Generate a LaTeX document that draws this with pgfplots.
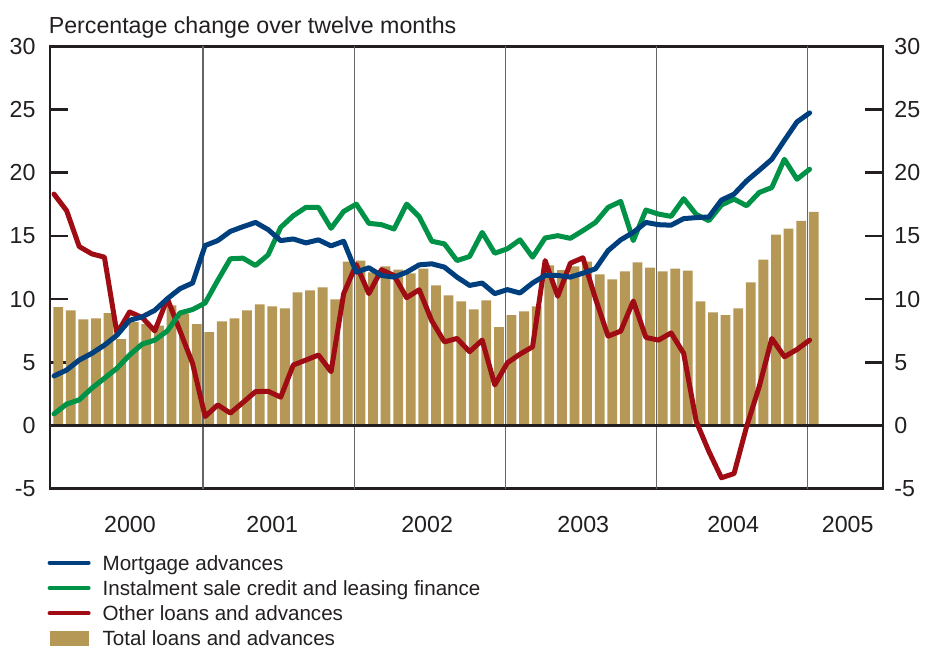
\documentclass[border=0pt]{standalone}
\usepackage{pgfplots}
\pgfplotsset{compat=1.18}
\usepackage{pgfplotstable}
\usepackage{fontspec}
\setmainfont{Liberation Sans}
\definecolor{mort}{RGB}{0,63,125}
\definecolor{inst}{RGB}{0,146,70}
\definecolor{oth}{RGB}{160,12,20}
\definecolor{tot}{RGB}{181,151,86}
\definecolor{ink}{RGB}{35,31,32}
\newcommand{\chfont}{\fontsize{11.6}{13.9}\selectfont}
\newcommand{\lgfont}{\fontsize{10.3}{12.4}\selectfont}

\pgfplotstableread{
i bar mort inst oth
0 9.37 3.91 0.91 18.31
1 9.11 4.38 1.68 17.00
2 8.40 5.17 2.02 14.16
3 8.48 5.70 2.94 13.58
4 8.88 6.35 3.73 13.32
5 6.83 7.14 4.52 7.28
6 8.17 8.32 5.57 8.98
7 8.01 8.59 6.43 8.54
8 7.90 9.11 6.75 7.48
9 9.50 10.03 7.48 10.03
10 8.85 10.82 8.90 7.48
11 8.01 11.27 9.17 4.91
12 7.38 14.24 9.69 0.70
13 8.24 14.63 11.48 1.62
14 8.48 15.36 13.19 0.97
15 9.11 15.73 13.24 1.81
16 9.58 16.07 12.66 2.67
17 9.42 15.50 13.50 2.70
18 9.27 14.63 15.68 2.23
19 10.53 14.76 16.60 4.78
20 10.69 14.45 17.26 5.17
21 10.92 14.69 17.26 5.57
22 9.98 14.21 15.60 4.25
23 12.97 14.58 16.94 10.43
24 13.05 12.13 17.52 12.74
25 12.11 12.48 16.00 10.43
26 12.58 11.87 15.89 12.32
27 12.34 11.74 15.55 11.87
28 12.03 12.13 17.52 10.11
29 12.42 12.71 16.52 10.74
30 11.08 12.79 14.58 8.27
31 10.29 12.53 14.37 6.61
32 9.82 11.74 13.05 6.88
33 9.19 11.08 13.37 5.83
34 9.90 11.27 15.28 6.75
35 7.77 10.43 13.63 3.20
36 8.72 10.75 13.98 4.95
37 9.03 10.48 14.69 5.64
38 9.42 11.27 13.32 6.22
39 12.66 11.87 14.84 13.05
40 12.30 11.87 15.02 10.22
41 12.58 11.74 14.81 12.84
42 12.97 12.05 15.42 13.27
43 11.95 12.40 16.07 10.03
44 11.56 13.84 17.26 7.06
45 12.19 14.69 17.73 7.46
46 12.90 15.28 14.63 9.85
47 12.50 16.07 17.05 6.96
48 12.19 15.89 16.73 6.75
49 12.42 15.85 16.55 7.32
50 12.26 16.37 17.95 5.70
51 9.82 16.45 16.70 0.30
52 8.95 16.50 16.21 -2.06
53 8.72 17.84 17.45 -4.15
54 9.27 18.31 17.92 -3.82
55 11.32 19.36 17.39 -0.09
56 13.13 20.20 18.44 3.07
57 15.10 21.07 18.83 6.88
58 15.57 22.57 21.07 5.43
59 16.20 24.03 19.49 6.01
60 16.91 24.74 20.28 6.75
}\data

\begin{document}
\begin{tikzpicture}
\useasboundingbox (-25pt,-79.75pt) rectangle (437.5pt,244.25pt);
\begin{axis}[
  name=ax,
  at={(0,0)}, anchor=south west,
  scale only axis, width=416.5pt, height=221pt,
  xmin=-0.65, xmax=65.5, ymin=-5, ymax=30,
  ytick={-5,0,...,30},
  xtick={5.7,17.0,29.3,41.7,53.6,62.7},
  xticklabels={2000,2001,2002,2003,2004,2005},
  x tick style={draw=none},
  y tick style={line width=1.3pt, color=ink},
  major tick length=9pt,
  tick align=inside,
  ytick pos=both,
  yticklabel pos=left,
  extra x ticks={11.5,23.5,35.5,47.5,59.5},
  extra x tick labels={},
  extra x tick style={grid=major, major grid style={line width=0.6pt, color=black!60}, tick style={draw=none}},
  axis line style={line width=1.3pt, color=ink},
  tick label style={font=\chfont, text=ink},
  xticklabel style={yshift=-10.4pt},
  yticklabel style={xshift=-3.7pt},
  /pgf/number format/assume math mode=true,
  reverse legend,
  legend cell align=left,
  legend style={at={(0,0)}, anchor=north west, xshift=-1.2pt, yshift=-33.4pt,
    draw=none, fill=none, inner sep=0pt, outer sep=0pt,
    font=\lgfont, text=ink, row sep=5.1pt, column sep=6pt,
    nodes={inner sep=0pt, text height=7.5pt, text depth=0pt}},
]
\addplot[ybar, bar width=4.9pt, fill=tot, draw=none,
  legend image code/.code={\fill[tot] (0pt,-3.75pt) rectangle (19.5pt,3.75pt);}]
  table[x=i, y=bar] {\data};
\addlegendentry{Total loans and advances}
\addplot[forget plot, line width=1.3pt, color=ink] coordinates {(-0.65,0) (65.5,0)};
\addplot[oth, line width=2.5pt, line join=round, line cap=round,
  legend image code/.code={\draw[oth, line width=2pt] (0pt,0pt) -- (19.5pt,0pt);}]
  table[x expr=\thisrow{i}-0.33, y=oth] {\data};
\addlegendentry{Other loans and advances}
\addplot[inst, line width=2.5pt, line join=round, line cap=round,
  legend image code/.code={\draw[inst, line width=2pt] (0pt,0pt) -- (19.5pt,0pt);}]
  table[x expr=\thisrow{i}-0.33, y=inst] {\data};
\addlegendentry{Instalment sale credit and leasing finance}
\addplot[mort, line width=2.5pt, line join=round, line cap=round,
  legend image code/.code={\draw[mort, line width=2pt] (0pt,0pt) -- (19.5pt,0pt);}]
  table[x expr=\thisrow{i}-0.33, y=mort] {\data};
\addlegendentry{Mortgage advances}
\end{axis}
\begin{axis}[
  at={(0,0)}, anchor=south west,
  scale only axis, width=416.5pt, height=221pt,
  xmin=-0.65, xmax=65.5, ymin=-5, ymax=30,
  hide x axis,
  axis y line*=right,
  y axis line style={draw=none},
  ytick={-5,0,...,30},
  ytick style={draw=none},
  yticklabel style={font=\chfont, text=ink, xshift=2.2pt},
  /pgf/number format/assume math mode=true,
]
\addplot[draw=none] coordinates {(0,0)};
\end{axis}
\node[anchor=base west, inner sep=0pt, font=\chfont, text=ink] at ([xshift=-0.8pt, yshift=6.65pt]ax.north west) {Percentage change over twelve months};
\end{tikzpicture}
\end{document}
